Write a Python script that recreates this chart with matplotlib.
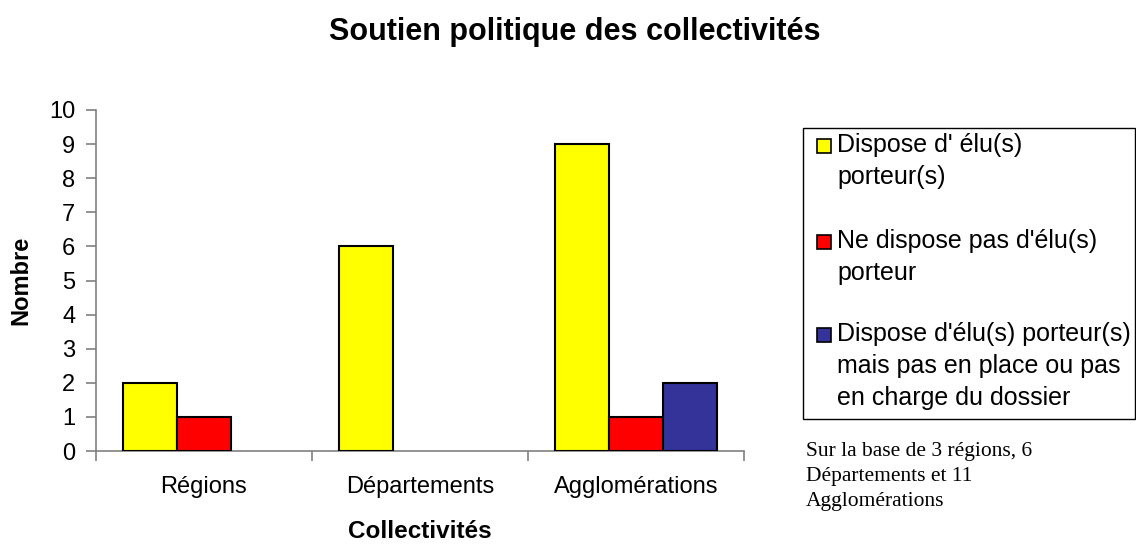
import matplotlib.pyplot as plt
import numpy as np
from matplotlib.patches import Rectangle

plt.rcParams['font.family'] = ['Liberation Sans', 'DejaVu Sans']

categories = ['Régions', 'Départements', 'Agglomérations']
series_names = ["Dispose d' élu(s)\nporteur(s)",
                "Ne dispose pas d'élu(s)\nporteur",
                "Dispose d'élu(s) porteur(s)\nmais pas en place ou pas\nen charge du dossier"]
elus_porteurs = [2, 6, 9]
pas_elus = [1, 0, 1]
pas_en_place = [0, 0, 2]
colors = ['#FFFF00', '#FF0000', '#333399']
note = "Sur la base de 3 régions, 6\nDépartements et 11\nAgglomérations"

W, H = 1136, 547
fig = plt.figure(figsize=(W / 100, H / 100), dpi=100)
ax = fig.add_axes([96 / W, 1 - 451 / H, (744 - 96) / W, (451 - 110) / H])

x = np.arange(len(categories))
width = 0.25
for i, vals in enumerate([elus_porteurs, pas_elus, pas_en_place]):
    v = np.array(vals, dtype=float)
    mask = v > 0
    ax.bar(x[mask] + (i - 1) * width, v[mask], width, color=colors[i],
           edgecolor='black', linewidth=1.5, zorder=3)

ax.set_xlim(-0.5, 2.5)
ax.set_ylim(0, 10)
ax.set_yticks(range(0, 11))
ax.set_xticks([-0.5, 0.5, 1.5, 2.5])
ax.set_xticklabels([])
ax.set_xticks(x, minor=True)
ax.set_xticklabels(categories, minor=True)
ax.tick_params(axis='x', which='minor', length=0, pad=18, labelsize=17)
ax.tick_params(axis='x', which='major', length=7, width=1.2, color='#808080')
ax.tick_params(axis='y', length=7, width=1.2, color='#808080', labelsize=17, pad=8)
for s in ['top', 'right']:
    ax.spines[s].set_visible(False)
for s in ['left', 'bottom']:
    ax.spines[s].set_color('#808080')
    ax.spines[s].set_linewidth(1.2)

ax.set_ylabel('Nombre', fontsize=17, fontweight='bold', labelpad=12)
ax.set_xlabel('Collectivités', fontsize=17.5, fontweight='bold', labelpad=16)
fig.text(575 / W, 1 - 32 / H, 'Soutien politique des collectivités',
         fontsize=22, fontweight='bold', ha='center', va='center')

# legend box drawn by hand so the marker sits on the first line
fig.patches.append(Rectangle((803 / W, 1 - 419 / H), (1135 - 803) / W, (419 - 128) / H,
                             transform=fig.transFigure, facecolor='white',
                             edgecolor='black', linewidth=1))
first_line_y = [146, 242, 335]
for name, c, yy in zip(series_names, colors, first_line_y):
    fig.patches.append(Rectangle((817 / W, 1 - (yy + 7) / H), 14 / W, 14 / H,
                                 transform=fig.transFigure, facecolor=c,
                                 edgecolor='black', linewidth=1.2))
    fig.text(837 / W, 1 - (yy - 13) / H, name, fontsize=18, ha='left', va='top',
             linespacing=1.41)

fig.text(806 / W, 1 - 442 / H, note, fontsize=15.5, family='Liberation Serif',
         ha='left', va='top', linespacing=1.42)

fig.savefig('out.png', dpi=100)
